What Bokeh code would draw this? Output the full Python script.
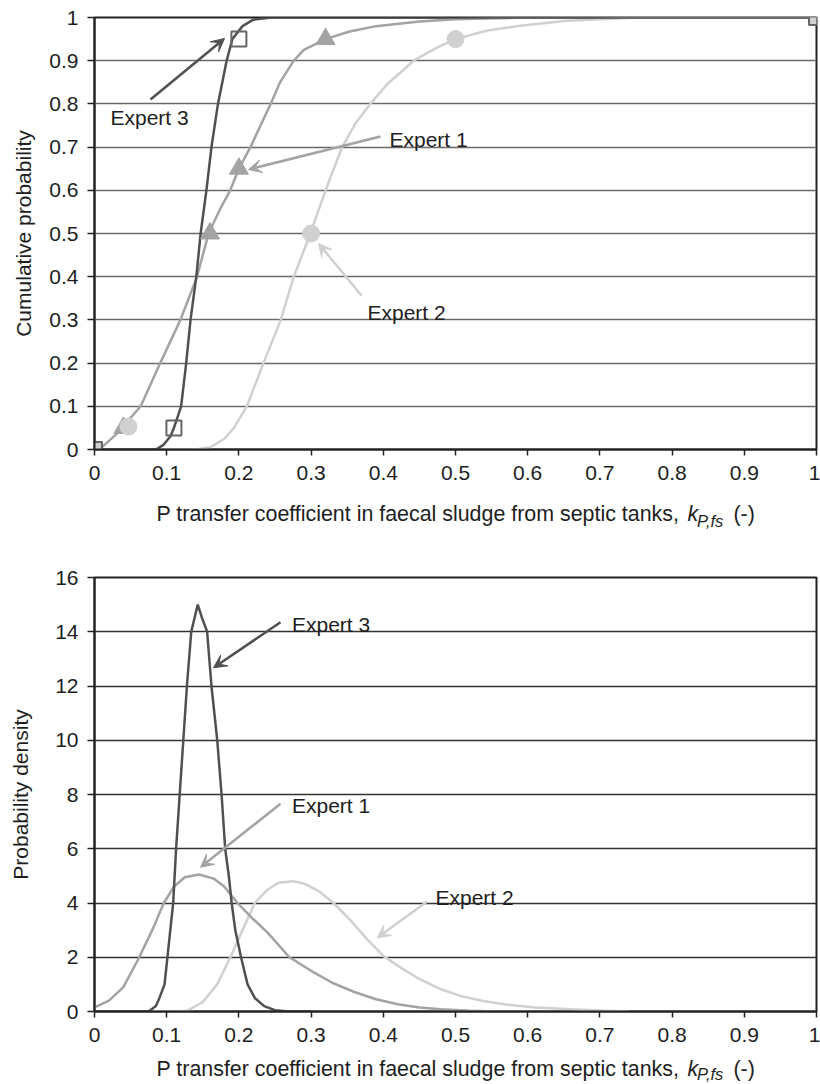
from bokeh.plotting import figure
from bokeh.layouts import column
from bokeh.models import (FixedTicker, CustomJSTickFormatter, Label, Arrow, VeeHead,
                          Range1d)
from bokeh.core.properties import value
from bokeh.embed import file_html
from bokeh.resources import INLINE

FONT = "Liberation Sans"

# ---------------- data ----------------
x_ticks = [0, 0.1, 0.2, 0.3, 0.4, 0.5, 0.6, 0.7, 0.8, 0.9, 1]
x_tick_labels = ["0", "0.1", "0.2", "0.3", "0.4", "0.5", "0.6", "0.7", "0.8", "0.9", "1"]
cdf_ticks = [0, 0.1, 0.2, 0.3, 0.4, 0.5, 0.6, 0.7, 0.8, 0.9, 1]
cdf_tick_labels = ["0", "0.1", "0.2", "0.3", "0.4", "0.5", "0.6", "0.7", "0.8", "0.9", "1"]
pdf_ticks = [0, 2, 4, 6, 8, 10, 12, 14, 16]
pdf_tick_labels = ["0", "2", "4", "6", "8", "10", "12", "14", "16"]
xlabel_parts = ["P transfer coefficient in faecal sludge from septic tanks,", "k", "P,fs", "(-)"]

# Cumulative distributions
e1_cdf_x = [0.0, 0.01, 0.03, 0.064, 0.091, 0.119, 0.142, 0.158, 0.175, 0.188, 0.2, 0.216, 0.244,
            0.257, 0.276, 0.29, 0.32, 0.352, 0.39, 0.45, 0.5, 0.6, 1.0]
e1_cdf_y = [0.0, 0.005, 0.035, 0.10, 0.20, 0.30, 0.40, 0.50, 0.56, 0.60, 0.65, 0.70, 0.80,
            0.85, 0.90, 0.925, 0.95, 0.967, 0.98, 0.991, 0.996, 1.0, 1.0]
e2_cdf_x = [0.0, 0.14, 0.16, 0.18, 0.193, 0.211, 0.234, 0.258, 0.276, 0.299, 0.32, 0.343,
            0.361, 0.382, 0.405, 0.442, 0.475, 0.5, 0.544, 0.59, 0.65, 0.75, 1.0]
e2_cdf_y = [0.0, 0.0, 0.005, 0.025, 0.05, 0.10, 0.20, 0.30, 0.40, 0.50, 0.60, 0.70,
            0.754, 0.80, 0.845, 0.90, 0.931, 0.95, 0.97, 0.981, 0.992, 1.0, 1.0]
e3_cdf_x = [0.0, 0.085, 0.095, 0.105, 0.11, 0.115, 0.12, 0.127, 0.133, 0.141, 0.147, 0.155,
            0.162, 0.171, 0.183, 0.191, 0.205, 0.22, 0.245, 1.0]
e3_cdf_y = [0.0, 0.0, 0.01, 0.03, 0.05, 0.075, 0.10, 0.20, 0.30, 0.40, 0.50, 0.60,
            0.70, 0.80, 0.90, 0.95, 0.98, 0.995, 1.0, 1.0]

# Elicited points
e1_pts_x = [0.04, 0.16, 0.2, 0.32]
e1_pts_y = [0.05, 0.5, 0.65, 0.95]
e2_pts_x = [0.047, 0.3, 0.5]
e2_pts_y = [0.053, 0.5, 0.95]
e3_pts_x = [0.11, 0.2]
e3_pts_y = [0.05, 0.95]
bounds_x = [0, 1]
bounds_y = [0, 1]

# Probability densities
e1_pdf_x = [0.0, 0.02, 0.04, 0.06, 0.08, 0.096, 0.11, 0.125, 0.145, 0.165, 0.18, 0.198, 0.22,
            0.24, 0.27, 0.30, 0.33, 0.36, 0.39, 0.42, 0.45, 0.48, 0.52, 0.56, 0.6]
e1_pdf_y = [0.15, 0.4, 0.9, 1.9, 3.0, 4.0, 4.6, 4.95, 5.05, 4.9, 4.6, 4.0, 3.4,
            2.9, 2.0, 1.5, 1.05, 0.72, 0.45, 0.27, 0.15, 0.08, 0.03, 0.0, 0.0]
e2_pdf_x = [0.075, 0.12, 0.13, 0.15, 0.17, 0.19, 0.205, 0.222, 0.24, 0.255, 0.275, 0.29, 0.31,
            0.331, 0.355, 0.378, 0.40, 0.425, 0.45, 0.48, 0.51, 0.54, 0.57, 0.61, 0.66, 0.70, 0.74]
e2_pdf_y = [0.0, 0.0, 0.05, 0.35, 1.0, 2.1, 3.0, 4.0, 4.5, 4.75, 4.8, 4.72, 4.45,
            4.0, 3.35, 2.65, 2.05, 1.6, 1.2, 0.82, 0.55, 0.38, 0.26, 0.15, 0.08, 0.04, 0.0]
e3_pdf_x = [0.0, 0.075, 0.085, 0.09, 0.097, 0.101, 0.105, 0.109, 0.113, 0.118, 0.123, 0.128,
            0.134, 0.143, 0.149, 0.156, 0.162, 0.166, 0.170, 0.176, 0.181, 0.186, 0.190, 0.195,
            0.203, 0.212, 0.222, 0.235, 0.25, 0.27, 0.3]
e3_pdf_y = [0.0, 0.0, 0.2, 0.5, 1.0, 2.0, 3.0, 4.0, 6.0, 8.0, 10.0, 12.0,
            14.0, 15.0, 14.5, 14.0, 12.0, 11.0, 10.0, 8.0, 6.0, 5.0, 4.0, 3.0,
            2.0, 1.0, 0.5, 0.2, 0.05, 0.0, 0.0]

DARK = "#505050"
MID = "#a3a3a3"
LIGHT = "#d0d0d0"
TXT = "#1e1e1e"

FMT_CODE = """
let best = 0; let d = Infinity;
for (let i = 0; i < tv.length; i++) {
  const e = Math.abs(tv[i] - tick);
  if (e < d) { d = e; best = i; }
}
return tl[best];
"""

LEFT = 94
RIGHT = 4
W = 820
FW = W - LEFT - RIGHT  # frame width in px


def fx(px):
    return (px - LEFT) / FW


def style(p, yticks, ylabels, ylabel, grid_color, ylab_standoff):
    p.xaxis.ticker = FixedTicker(ticks=x_ticks)
    p.xaxis.formatter = CustomJSTickFormatter(args=dict(tv=x_ticks, tl=x_tick_labels), code=FMT_CODE)
    p.yaxis.ticker = FixedTicker(ticks=yticks)
    p.yaxis.formatter = CustomJSTickFormatter(args=dict(tv=yticks, tl=ylabels), code=FMT_CODE)
    for ax in (p.xaxis, p.yaxis):
        ax.major_label_text_font = FONT
        ax.major_label_text_font_size = "21px"
        ax.major_label_text_color = TXT
        ax.axis_line_color = "#222222"
        ax.axis_line_width = 2
        ax.major_tick_line_color = "#222222"
        ax.major_tick_line_width = 1.5
        ax.major_tick_in = 0
        ax.minor_tick_line_color = None
    p.xaxis.major_tick_out = 6
    p.xaxis.major_label_standoff = 10
    p.yaxis.major_tick_out = 7
    p.yaxis.major_label_standoff = 9
    p.yaxis.axis_label = ylabel
    p.yaxis.axis_label_text_font = FONT
    p.yaxis.axis_label_text_font_size = "21px"
    p.yaxis.axis_label_text_font_style = "normal"
    p.yaxis.axis_label_text_color = TXT
    p.yaxis.axis_label_standoff = ylab_standoff
    p.xgrid.visible = False
    p.ygrid.ticker = FixedTicker(ticks=yticks)
    p.ygrid.grid_line_color = grid_color
    p.ygrid.grid_line_width = 1.5
    p.outline_line_color = "#222222"
    p.outline_line_width = 2
    p.background_fill_color = "white"
    p.border_fill_color = "white"


def note(p, text, tx, ty, x0, y0, x1, y1, color):
    p.add_layout(Label(x=tx, y=ty, text=text, text_font=FONT, text_font_size="21px",
                       text_color=TXT, text_baseline="alphabetic", text_align="left"))
    p.add_layout(Arrow(end=VeeHead(size=13, fill_color=color, line_color=color, line_width=1),
                       x_start=x0, y_start=y0, x_end=x1, y_end=y1,
                       line_color=color, line_width=2.5))


def label_fig(h, base_from_top, sub_drop):
    f = figure(width=W, height=h, x_range=Range1d(0, 1), y_range=Range1d(0, h),
               output_backend="svg", toolbar_location=None,
               x_axis_location=None, y_axis_location=None,
               min_border_left=LEFT, min_border_right=RIGHT, min_border_top=0, min_border_bottom=0)
    f.outline_line_color = None
    f.grid.grid_line_color = None
    f.grid.visible = False
    f.background_fill_color = "white"
    f.border_fill_color = "white"
    yb = h - base_from_top
    common = dict(text_font=value(FONT), text_color=TXT, text_baseline="alphabetic", text_align="left")
    f.text(x=[fx(156)], y=[yb], text=[xlabel_parts[0]], text_font_size="21.4px", **common)
    f.text(x=[fx(687)], y=[yb], text=[xlabel_parts[1]], text_font_size="21.4px",
           text_font_style="italic", **common)
    f.text(x=[fx(696.5)], y=[yb - sub_drop], text=[xlabel_parts[2]], text_font_size="16.5px",
           text_font_style="italic", **common)
    f.text(x=[fx(733)], y=[yb], text=[xlabel_parts[3]], text_font_size="21.4px", **common)
    return f


# ---------------- top: cumulative ----------------
SC1 = 432.0
p1 = figure(width=W, height=489, x_range=Range1d(0, 1), y_range=Range1d(0, 1),
            output_backend="svg", toolbar_location=None,
            min_border_left=LEFT, min_border_right=RIGHT, min_border_top=17, min_border_bottom=40)
style(p1, cdf_ticks, cdf_tick_labels, "Cumulative probability", "#6a6a6a", 11)

p1.line(e2_cdf_x, e2_cdf_y, line_color=LIGHT, line_width=2.5)
p1.line(e1_cdf_x, e1_cdf_y, line_color=MID, line_width=2.5)
p1.line(e3_cdf_x, e3_cdf_y, line_color=DARK, line_width=2.5)

p1.scatter(e1_pts_x, e1_pts_y, marker="triangle", size=19, fill_color=MID, line_color=MID)
p1.scatter(e2_pts_x, e2_pts_y, marker="circle", size=17, fill_color=LIGHT, line_color=LIGHT)
p1.scatter(e3_pts_x, e3_pts_y, marker="square", size=15, fill_color=None, line_color="#666666", line_width=2)
p1.scatter(bounds_x, bounds_y, marker="square", size=15, fill_color=LIGHT, line_color="#666666", line_width=2)


def y1(py):
    return (449 - py) / SC1


note(p1, "Expert 3", fx(110), y1(117), fx(150), y1(99), fx(224), y1(38), DARK)
note(p1, "Expert 1", fx(389), y1(139), fx(380), y1(136), fx(248), y1(169), MID)
note(p1, "Expert 2", fx(367), y1(312), fx(361), y1(295), fx(318), y1(243), LIGHT)

l1 = label_fig(44, 513.3 - 489, 7)

# ---------------- bottom: density ----------------
SC2 = 434 / 16.0
p2 = figure(width=W, height=518, x_range=Range1d(0, 1), y_range=Range1d(0, 16),
            output_backend="svg", toolbar_location=None,
            min_border_left=LEFT, min_border_right=RIGHT, min_border_top=44, min_border_bottom=40)
style(p2, pdf_ticks, pdf_tick_labels, "Probability density", "#333333", 20)

p2.line(e2_pdf_x, e2_pdf_y, line_color=LIGHT, line_width=2.5)
p2.line(e1_pdf_x, e1_pdf_y, line_color=MID, line_width=2.5)
p2.line(e3_pdf_x, e3_pdf_y, line_color=DARK, line_width=2.5)


def y2(py):
    return (1011 - py) / SC2


note(p2, "Expert 3", fx(291.5), y2(624), fx(280), y2(621.7), fx(213), y2(667.3), DARK)
note(p2, "Expert 1", fx(291.5), y2(805), fx(280), y2(803.3), fx(200), y2(866.7), MID)
note(p2, "Expert 2", fx(435), y2(896.7), fx(426.7), y2(901), fx(376.7), y2(937.3), LIGHT)

l2 = label_fig(33, 1068.5 - 1051, 4.5)

layout = column(p1, l1, p2, l2)
open("out.html", "w").write(file_html(layout, INLINE))
